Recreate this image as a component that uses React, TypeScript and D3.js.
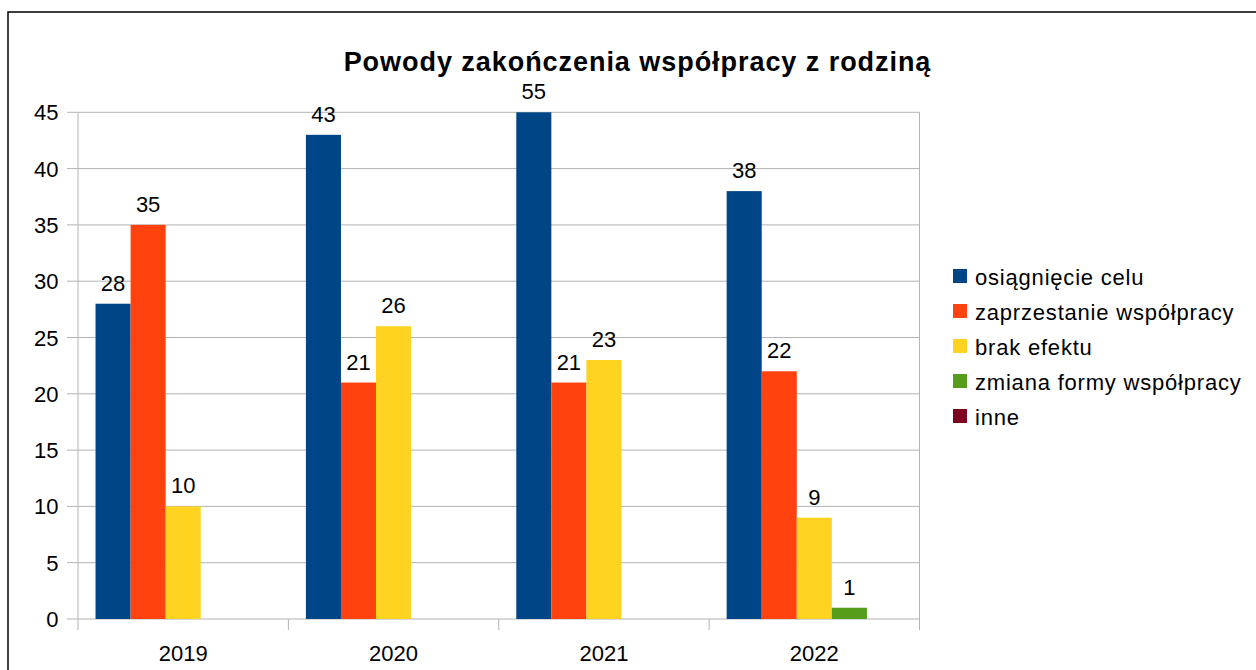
import React from "react";
import * as d3 from "d3";

const title = "Powody zakończenia współpracy z rodziną";
const categories = ["2019", "2020", "2021", "2022"];
const seriesNames = [
  "osiągnięcie celu",
  "zaprzestanie współpracy",
  "brak efektu",
  "zmiana formy współpracy",
  "inne",
];
const osiagniecieCelu = [28, 43, 55, 38];
const zaprzestanie = [35, 21, 21, 22];
const brakEfektu = [10, 26, 23, 9];
const zmianaFormy = [0, 0, 0, 1];
const inne = [0, 0, 0, 0];
const seriesValues = [osiagniecieCelu, zaprzestanie, brakEfektu, zmianaFormy, inne];
const colors = ["#004586", "#ff420e", "#ffd320", "#579d1c", "#7e0021"];
const yTicks = [0, 5, 10, 15, 20, 25, 30, 35, 40, 45];

const FONT = "'Liberation Sans', Arial, sans-serif";

export default function App() {
  const W = 1256, H = 670;
  const left = 78, right = 919.5, top = 112.3, bottom = 619;
  const yMax = 45;
  const x = d3.scaleBand<string>().domain(categories).range([left, right]).paddingInner(0).paddingOuter(0);
  // each category split into 6 slots: half slot padding each side, 5 bars
  const slot = x.bandwidth() / 6;
  const y = d3.scaleLinear().domain([0, yMax]).range([bottom, top]);

  return (
    <svg width={W} height={H} style={{ position: "absolute", left: 0, top: 0, background: "#fff" }}>
      <rect x={0} y={0} width={W} height={H} fill="#fff" />
      {/* outer border */}
      <rect x={8} y={12} width={1260} height={680} fill="none" stroke="#000" strokeWidth={1.5} />
      <text x={637.5} y={70.5} textAnchor="middle" fontFamily={FONT} fontWeight="bold" fontSize={27} letterSpacing={0.95} fill="#000">{title}</text>

      {/* gridlines */}
      {yTicks.map((t) => (
        <g key={t}>
          <line x1={67} x2={right} y1={y(t)} y2={y(t)} stroke="#b3b3b3" strokeWidth={1} />
          <text x={58.5} y={y(t) + 8} textAnchor="end" fontFamily={FONT} fontSize={22} fill="#000">{t}</text>
        </g>
      ))}
      {/* axes verticals */}
      <line x1={left} x2={left} y1={top} y2={630} stroke="#b3b3b3" strokeWidth={1} />
      {categories.map((c, i) => (
        <line key={c} x1={(x(c) as number) + x.bandwidth()} x2={(x(c) as number) + x.bandwidth()} y1={i === categories.length - 1 ? top : bottom} y2={630} stroke="#b3b3b3" strokeWidth={1} />
      ))}

      {/* bars */}
      {categories.map((c, ci) =>
        seriesValues.map((vals, si) => {
          const v = vals[ci];
          const x0 = (x(c) as number) + slot * 0.5 + si * slot;
          const yt = y(Math.min(v, yMax));
          return (
            <g key={c + si}>
              {v > 0 && <rect x={x0} y={yt} width={slot} height={bottom - yt} fill={colors[si]} />}
              {v > 0 && (
                <text x={x0 + slot / 2} y={yt - 13} textAnchor="middle" fontFamily={FONT} fontSize={22} fill="#000">{v}</text>
              )}
            </g>
          );
        })
      )}

      {/* x labels */}
      {categories.map((c) => (
        <text key={c} x={(x(c) as number) + x.bandwidth() / 2} y={661} textAnchor="middle" fontFamily={FONT} fontSize={22} fill="#000">{c}</text>
      ))}

      {/* legend */}
      {seriesNames.map((n, i) => (
        <g key={n}>
          <rect x={953} y={269 + i * 35} width={14} height={14} fill={colors[i]} />
          <text x={975} y={284.5 + i * 35} fontFamily={FONT} fontSize={22} letterSpacing={0.8} fill="#000">{n}</text>
        </g>
      ))}
    </svg>
  );
}
